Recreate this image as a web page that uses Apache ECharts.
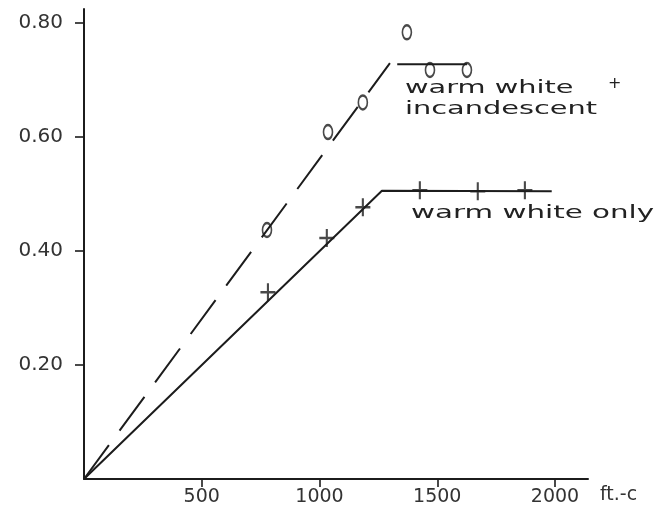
<!DOCTYPE html>
<html>
<head>
<meta charset="utf-8">
<script src="https://cdn.jsdelivr.net/npm/echarts@6/dist/echarts.min.js"></script>
<style>html,body{margin:0;padding:0;background:#fff}#c{width:659px;height:523px}</style>
</head>
<body>
<div id="c"></div>
<script>
// Tick labels
const xTicks = [500, 1000, 1500, 2000];
const yTicks = [0.2, 0.4, 0.6, 0.8];
// Warm white + incandescent
const incRise = [[0, 0], [1299, 0.73]];
const incPlateau = [[1330, 0.728], [1626, 0.728]];
const incPoints = [[777, 0.437], [1036, 0.609], [1184, 0.661], [1371, 0.784], [1469, 0.718], [1626, 0.718]];
// Warm white only
const wwLine = [[0, 0], [1265, 0.506], [1986, 0.505]];
const wwPoints = [[781, 0.328], [1031, 0.423], [1184, 0.477], [1426, 0.507], [1672, 0.505], [1872, 0.507]];

const ink = '#1c1c1c';
const font = 'DejaVu Sans';
const chart = echarts.init(document.getElementById('c'));
chart.setOption({
  animation: false,
  backgroundColor: '#ffffff',
  grid: {left: 84, right: 71, top: 9, bottom: 44},
  xAxis: {
    type: 'value', min: 0, max: 2140,
    splitLine: {show: false},
    axisLine: {lineStyle: {color: ink, width: 2}},
    axisTick: {customValues: xTicks, length: 8, lineStyle: {color: ink, width: 1.6}},
    axisLabel: {customValues: xTicks, color: '#333', fontSize: 19, fontFamily: font, margin: 9,
      formatter: v => String(v)},
    name: 'ft.-c', nameLocation: 'end', nameGap: 12,
    nameTextStyle: {color: '#333', fontSize: 19, fontFamily: font, verticalAlign: 'top', padding: [7, 0, 0, 0]}
  },
  yAxis: {
    type: 'value', min: 0, max: 0.825,
    splitLine: {show: false},
    axisLine: {lineStyle: {color: ink, width: 2}},
    axisTick: {customValues: yTicks, length: 9, lineStyle: {color: ink, width: 1.6}},
    axisLabel: {customValues: yTicks, color: '#333', fontSize: 20, fontFamily: font, margin: 21,
      formatter: v => v.toFixed(2)}
  },
  series: [
    {type: 'line', data: incRise, symbol: 'none', lineStyle: {color: ink, width: 2, type: [42, 18]}},
    {type: 'line', data: incPlateau, symbol: 'none', lineStyle: {color: ink, width: 2}},
    {type: 'scatter', data: incPoints, symbol: 'emptyCircle', symbolSize: [9, 14],
      itemStyle: {color: ink, borderColor: ink, borderWidth: 2}},
    {type: 'line', data: wwLine, symbol: 'none', lineStyle: {color: ink, width: 2}},
    {type: 'scatter', data: wwPoints, symbol: 'path://M4.3,0h1.4v10h-1.4z M0,4.3h10v1.4h-10z', symbolSize: [15, 18],
      itemStyle: {color: ink}}
  ],
  graphic: [
    {type: 'text', x: 405, y: 79, scaleX: 1.6, style: {text: 'warm white', fill: '#222', font: '18px "DejaVu Sans"'}},
    {type: 'text', x: 608, y: 76, style: {text: '+', fill: '#222', font: '16px "DejaVu Sans"'}},
    {type: 'text', x: 405, y: 100, scaleX: 1.6, style: {text: 'incandescent', fill: '#222', font: '18px "DejaVu Sans"'}},
    {type: 'text', x: 411, y: 204, scaleX: 1.63, style: {text: 'warm white only', fill: '#222', font: '18px "DejaVu Sans"'}}
  ]
});
</script>
</body>
</html>
